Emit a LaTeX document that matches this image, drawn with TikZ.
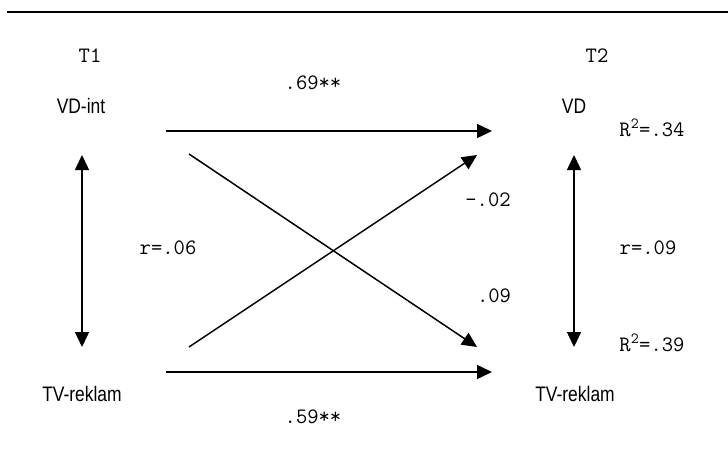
\documentclass[tikz,border=0pt]{standalone}
\usepackage{fontspec}
\setmainfont{Liberation Sans}
\newfontfamily\narrowfnt[FakeStretch=0.83]{Liberation Sans}
\usetikzlibrary{arrows.meta}

\tikzset{
  var/.style={font=\narrowfnt\fontsize{21}{24}\selectfont},
  coef/.style={font=\ttfamily\fontsize{22}{24}\selectfont},
  path/.style={line width=1.5pt},
}

\begin{document}
\begin{tikzpicture}[x=1pt, y=-1pt, >={Triangle[length=15pt,width=14pt]}]
    \useasboundingbox (0,0) rectangle (728,461);
    \draw[line width=2pt] (7,12) -- (728,12);

    % time points and variables
    \node[coef](t1) at (90,56) {T1};
    \node[coef](t2) at (597,56) {T2};
    \node[var](vdint) at (81,106) {VD-int};
    \node[var](tv1) at (82,394) {TV-reklam};
    \node[var](vd) at (574,106) {VD};
    \node[var](tv2) at (575,394) {TV-reklam};

    % arrow ends
    \coordinate (vdint-e) at (166,131);
    \coordinate (vd-w) at (492,131);
    \coordinate (tv1-e) at (166,372);
    \coordinate (tv2-w) at (492,372);
    \coordinate (vdint-se) at (189,154);
    \coordinate (tv2-nw) at (477,347);
    \coordinate (tv1-ne) at (189,347);
    \coordinate (vd-sw) at (477,155);
    \coordinate (vdint-s) at (82,155);
    \coordinate (tv1-n) at (82,347);
    \coordinate (vd-s) at (574,155);
    \coordinate (tv2-n) at (574,347);

    \draw[path,->] (vdint-e) -- (vd-w);
    \draw[path,->] (tv1-e) -- (tv2-w);
    \draw[path,->] (vdint-se) -- (tv2-nw);
    \draw[path,->] (tv1-ne) -- (vd-sw);
    \draw[path,<->] (vdint-s) -- (tv1-n);
    \draw[path,<->] (vd-s) -- (tv2-n);

    % coefficients
    \node[coef](p69) at (313,83) {.69**};
    \node[coef](p59) at (313,417) {.59**};
    \node[coef](r06) at (168,248) {r=.06};
    \node[coef](r09) at (648,248) {r=.09};
    \node[coef](p02) at (488,200) {-.02};
    \node[coef](p09) at (494,296) {.09};
    \node[coef](rsq1) at (652,128) {R\textsuperscript{2}=.34};
    \node[coef](rsq2) at (652,343) {R\textsuperscript{2}=.39};
  \end{tikzpicture}
\end{document}
